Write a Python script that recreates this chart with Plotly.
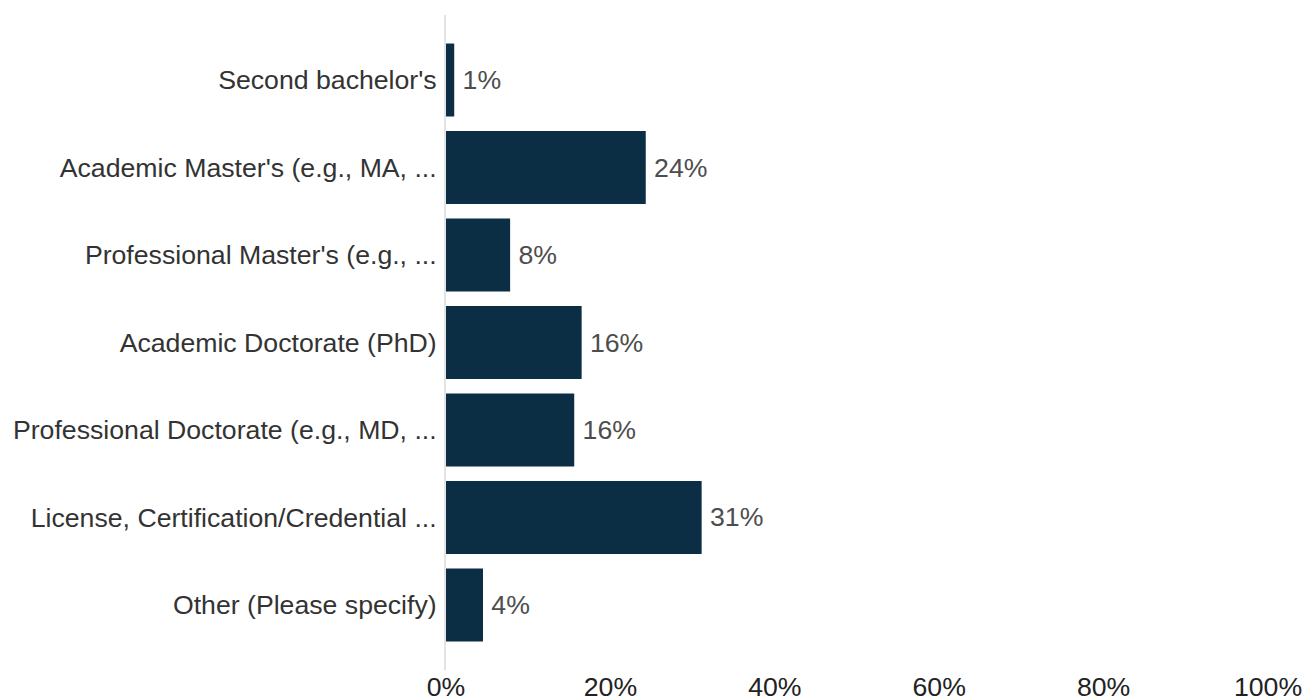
import plotly.graph_objects as go

categories = [
    "Second bachelor's",
    "Academic Master's (e.g., MA, ...",
    "Professional Master's (e.g., ...",
    "Academic Doctorate (PhD)",
    "Professional Doctorate (e.g., MD, ...",
    "License, Certification/Credential ...",
    "Other (Please specify)",
]
values = [1.0, 24.3, 7.8, 16.5, 15.6, 31.1, 4.5]
value_labels = ["1%", "24%", "8%", "16%", "16%", "31%", "4%"]
x_ticks = [0, 20, 40, 60, 80, 100]
x_tick_labels = ["0%", "20%", "40%", "60%", "80%", "100%"]

FONT = "Liberation Sans, Arial, sans-serif"
FS = 26.67

fig = go.Figure(
    go.Bar(
        x=values,
        y=categories,
        orientation="h",
        marker=dict(color="#0c2e45", line=dict(width=0)),
        text=value_labels,
        texttemplate="\u2009%{text}",
        textposition="outside",
        textfont=dict(family=FONT, size=FS, color="#4d4d4d"),
        cliponaxis=False,
        hoverinfo="skip",
    )
)

fig.update_layout(
    width=1304,
    height=698,
    margin=dict(l=446, r=36, t=15, b=28),
    paper_bgcolor="white",
    plot_bgcolor="white",
    bargap=0.166,
    showlegend=False,
    font=dict(family=FONT, size=FS, color="#333333"),
    uniformtext=dict(mode=False),
)

fig.update_xaxes(
    range=[0, 100],
    tickvals=x_ticks,
    ticktext=x_tick_labels,
    showgrid=False,
    zeroline=False,
    showline=False,
    ticks="",
    ticklabelstandoff=-2,
    tickfont=dict(family=FONT, size=FS, color="#222222"),
    automargin=False,
    fixedrange=True,
)

fig.update_yaxes(
    type="category",
    categoryorder="array",
    categoryarray=categories,
    range=[6.743, -0.743],
    showgrid=False,
    zeroline=False,
    showline=True,
    linecolor="#e3e3e3",
    linewidth=2,
    ticks="",
    ticklabelstandoff=2,
    tickfont=dict(family=FONT, size=FS, color="#333333"),
    automargin=False,
    fixedrange=True,
)

fig.write_html(
    "out.html",
    config={"displayModeBar": False, "staticPlot": True},
    post_script="document.body.style.margin='0';document.body.style.overflow='hidden';",
)
